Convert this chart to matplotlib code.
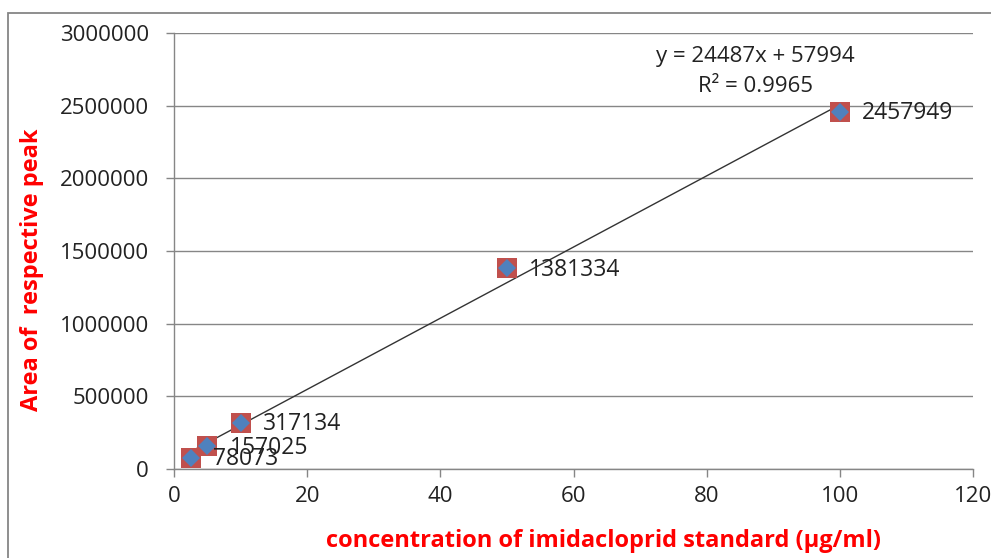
import matplotlib
matplotlib.use("Agg")
import matplotlib.pyplot as plt
from matplotlib.patches import Rectangle
import numpy as np

plt.rcParams['font.family'] = ['Open Sans', 'DejaVu Sans']

conc = [2.5, 5, 10, 50, 100]
area = [78073, 157025, 317134, 1381334, 2457949]
labels = ["78073", "157025", "317134", "1381334", "2457949"]
slope, intercept = 24487, 57994
eq_text = "y = 24487x + 57994"
r2_text = "R² = 0.9965"
xticks = [0, 20, 40, 60, 80, 100, 120]
yticks = [0, 500000, 1000000, 1500000, 2000000, 2500000, 3000000]

W, H = 991, 558
fig = plt.figure(figsize=(W / 100, H / 100), dpi=100)
fig.patch.set_facecolor('white')
# chart border
fig.patches.append(Rectangle((8 / W, -0.05), 1.2, 1 - 13 / H + 0.05, transform=fig.transFigure,
                             fill=False, edgecolor='#868686', linewidth=1.3))

ax = fig.add_axes([174 / W, 1 - 469 / H, (973 - 174) / W, (469 - 33) / H])
ax.set_xlim(0, 120)
ax.set_ylim(0, 3000000)
ax.set_xticks(xticks)
ax.set_yticks(yticks)
ax.set_xticklabels([str(v) for v in xticks])
ax.set_yticklabels([str(v) for v in yticks])
for s in ['top', 'right']:
    ax.spines[s].set_visible(False)
for s in ['left', 'bottom']:
    ax.spines[s].set_color('#868686')
    ax.spines[s].set_linewidth(1.0)
ax.yaxis.grid(True, color='#868686', linewidth=1.0)
ax.set_axisbelow(True)
ax.tick_params(axis='both', direction='out', length=6, width=1.0, color='#868686',
               labelsize=16, labelcolor='#222222')
ax.tick_params(axis='y', pad=12)
ax.tick_params(axis='x', pad=6)

# trendline
xl = np.array([conc[0], conc[-1]])
ax.plot(xl, slope * xl + intercept, color='#333333', linewidth=1.0, zorder=3)
# markers
ax.plot(conc, area, linestyle='none', marker='s', markersize=14, color='#C0504D',
        markeredgewidth=0, zorder=4)
ax.plot(conc, area, linestyle='none', marker='D', markersize=9.5, color='#4F81BD',
        markeredgewidth=0, zorder=5)

for x, y, t in zip(conc, area, labels):
    ax.annotate(t, (x, y), xytext=(16, -1), textcoords='offset points',
                ha='left', va='center', fontsize=16.5, color='#222222', zorder=6)

ax.text(87.3, 2835000, eq_text, ha='center', va='center', fontsize=16, color='#222222')
ax.text(87.3, 2635000, r2_text, ha='center', va='center', fontsize=16, color='#222222')

fig.text(32 / W, 1 - 270 / H, "Area of  respective peak", rotation=90, ha='center', va='center',
         fontsize=17, fontweight='bold', color='#FF0000')
fig.text(604 / W, 1 - 541 / H, "concentration of imidacloprid standard (µg/ml)", ha='center',
         va='center', fontsize=17, fontweight='bold', color='#FF0000')

fig.savefig("out.png", dpi=100, facecolor='white')
